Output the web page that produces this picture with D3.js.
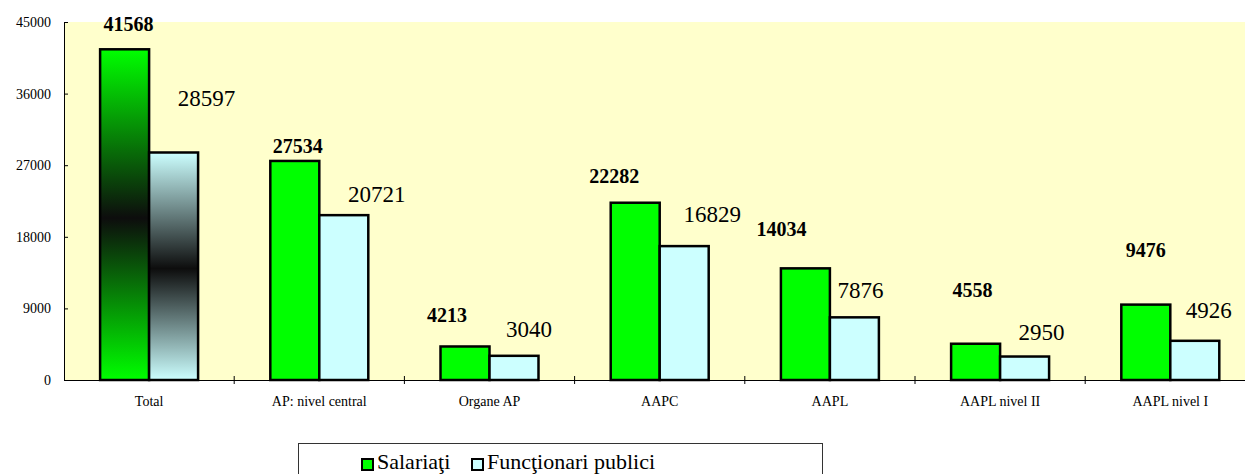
<!DOCTYPE html>
<html>
<head>
<meta charset="utf-8">
<script src="https://cdn.jsdelivr.net/npm/d3@7"></script>
<style>
  body { margin: 0; background: #fff; }
</style>
</head>
<body>
<div id="chart"></div>
<script>
// data
const categories = ['Total', 'AP: nivel central', 'Organe AP', 'AAPC', 'AAPL', 'AAPL nivel II', 'AAPL nivel I'];
const series = ['Salariaţi', 'Funcţionari publici'];
const salariati = [41568, 27534, 4213, 22282, 14034, 4558, 9476];
const functionari = [28597, 20721, 3040, 16829, 7876, 2950, 4926];
const yTicks = [0, 9000, 18000, 27000, 36000, 45000];

// hand placed value labels (dx from bar centre, gap above bar top)
const greenNudge = [[4, 18], [3, 8], [-18, 24], [-21, 20], [-24, 32], [-3, 47], [0, 48]];
const blueNudge = [[33, 46], [33, 13], [15, 19], [28, 24], [6, 19], [17, 17], [14, 23]];

const SERIF = '"Liberation Serif", "Times New Roman", Times, serif';
const width = 1245, height = 474;
const plot = { left: 64, top: 22, bottom: 380, step: 170.2 };

const svg = d3.select('#chart').append('svg')
  .attr('width', width)
  .attr('height', height)
  .style('font-family', SERIF);

const defs = svg.append('defs');
const grad = (id, c) => {
  const g = defs.append('linearGradient').attr('id', id)
    .attr('x1', 0).attr('y1', 0).attr('x2', 0).attr('y2', 1);
  g.append('stop').attr('offset', '0%').attr('stop-color', c);
  g.append('stop').attr('offset', '51%').attr('stop-color', '#0d0d0d');
  g.append('stop').attr('offset', '100%').attr('stop-color', c);
};
grad('gGreen', '#00ff00');
grad('gBlue', '#ccffff');

const x0 = d3.scaleBand()
  .domain(categories)
  .range([plot.left, plot.left + plot.step * categories.length]);

const x1 = d3.scaleBand()
  .domain(series)
  .range([0, x0.bandwidth()])
  .paddingOuter(0.737);

const y = d3.scaleLinear()
  .domain([0, 45000])
  .range([plot.bottom, plot.top]);

// plot background
svg.append('rect')
  .attr('x', plot.left).attr('y', plot.top)
  .attr('width', width - plot.left).attr('height', plot.bottom - plot.top)
  .attr('fill', '#ffffcc');

const colors = ['#00ff00', '#ccffff'];
const rows = categories.map((c, i) => ({ cat: c, i, vals: [salariati[i], functionari[i]] }));

const groups = svg.append('g').selectAll('g')
  .data(rows)
  .join('g')
  .attr('transform', d => `translate(${x0(d.cat)},0)`);

groups.selectAll('rect')
  .data(d => series.map((s, k) => ({ s, k, v: d.vals[k], first: d.i === 0 })))
  .join('rect')
  .attr('x', d => x1(d.s))
  .attr('y', d => y(d.v))
  .attr('width', x1.bandwidth())
  .attr('height', d => y(0) - y(d.v))
  .attr('fill', d => d.first ? (d.k === 0 ? 'url(#gGreen)' : 'url(#gBlue)') : colors[d.k])
  .attr('stroke', '#000')
  .attr('stroke-width', 2.5);

// value labels
groups.append('text')
  .attr('x', d => x1(series[0]) + x1.bandwidth() / 2 + greenNudge[d.i][0])
  .attr('y', d => y(d.vals[0]) - greenNudge[d.i][1])
  .attr('text-anchor', 'middle')
  .style('font-family', SERIF)
  .style('font-size', '20px')
  .style('font-weight', 'bold')
  .text(d => d.vals[0]);

groups.append('text')
  .attr('x', d => x1(series[1]) + x1.bandwidth() / 2 + blueNudge[d.i][0])
  .attr('y', d => y(d.vals[1]) - blueNudge[d.i][1])
  .attr('text-anchor', 'middle')
  .style('font-family', SERIF)
  .style('font-size', '23px')
  .text(d => d.vals[1]);

// y axis
const yAxis = svg.append('g')
  .attr('transform', `translate(${plot.left},0)`)
  .call(d3.axisLeft(y).tickValues(yTicks).tickFormat(d3.format('d'))
    .tickSize(4).tickSizeOuter(0).tickPadding(9));
yAxis.selectAll('.tick line').attr('x2', 4);
yAxis.selectAll('text')
  .style('font-family', SERIF)
  .style('font-size', '14px')
  .attr('fill', '#000');

// x axis
const xAxis = svg.append('g')
  .attr('transform', `translate(0,${plot.bottom})`)
  .call(d3.axisBottom(x0).tickSize(0).tickSizeOuter(0).tickPadding(16));
xAxis.selectAll('text')
  .style('font-family', SERIF)
  .style('font-size', '14px')
  .attr('fill', '#000');
xAxis.selectAll('.boundary')
  .data(categories.slice(1))
  .join('line')
  .attr('class', 'boundary')
  .attr('x1', d => x0(d)).attr('x2', d => x0(d))
  .attr('y1', -4).attr('y2', 4)
  .attr('stroke', '#000');
svg.selectAll('.domain').attr('stroke', '#000');

// legend
const legend = svg.append('g');
legend.append('rect')
  .attr('x', 298.5).attr('y', 443.5)
  .attr('width', 524).attr('height', 40)
  .attr('fill', '#fff')
  .attr('stroke', '#333');
const legendX = [362, 472];
series.forEach((s, k) => {
  legend.append('rect')
    .attr('x', legendX[k]).attr('y', 459)
    .attr('width', 11).attr('height', 11)
    .attr('fill', colors[k])
    .attr('stroke', '#000').attr('stroke-width', 2);
  legend.append('text')
    .attr('x', legendX[k] + 15).attr('y', 469)
    .style('font-family', SERIF)
    .style('font-size', '22px')
    .text(s);
});
</script>
</body>
</html>
